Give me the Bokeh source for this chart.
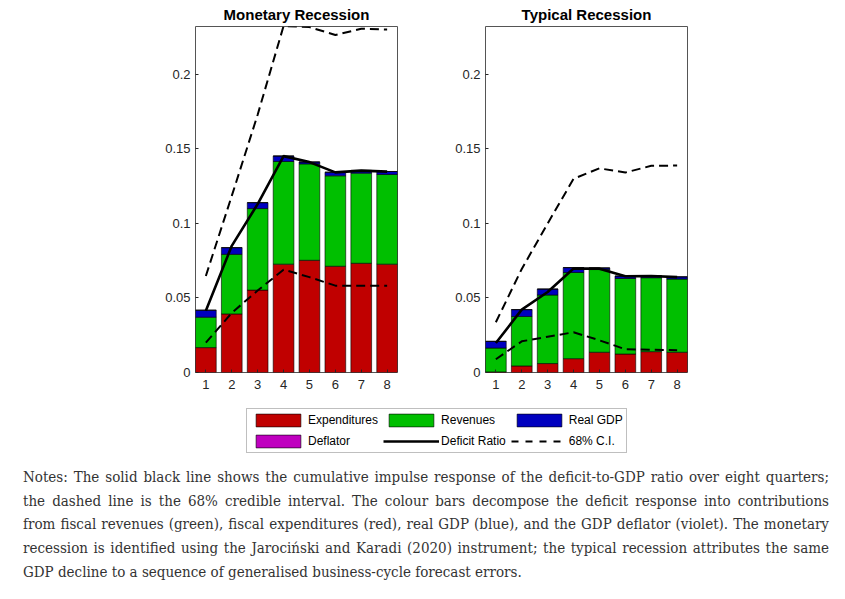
from bokeh.plotting import figure
from bokeh.models import ColumnDataSource, Range1d, FixedTicker, Legend, LegendItem, Div
from bokeh.layouts import column, row
from bokeh.embed import file_html
from bokeh.resources import INLINE

# ---------------- data ----------------
quarters = [1, 2, 3, 4, 5, 6, 7, 8]
y_ticks = [0, 0.05, 0.1, 0.15, 0.2]
y_tick_labels = ["0", "0.05", "0.1", "0.15", "0.2"]
x_tick_labels = ["1", "2", "3", "4", "5", "6", "7", "8"]

# Monetary recession
exp_m = [0.0167, 0.0393, 0.0553, 0.0727, 0.0753, 0.0713, 0.0733, 0.0727]
rev_m = [0.0204, 0.0400, 0.0547, 0.0689, 0.0647, 0.0607, 0.0605, 0.0602]
gdp_m = [0.0047, 0.0045, 0.0040, 0.0037, 0.0013, 0.0024, 0.0018, 0.0020]
defl_m = [0.0, 0.0, 0.0, 0.0, 0.0, 0.0, 0.0, 0.0]
deficit_m = [0.0415, 0.0850, 0.1130, 0.1452, 0.1412, 0.1343, 0.1355, 0.1348]
ci_lo_m = [0.0200, 0.0400, 0.0550, 0.0690, 0.0640, 0.0583, 0.0583, 0.0583]
ci_hi_m = [0.0648, 0.1185, 0.1730, 0.2325, 0.2318, 0.2265, 0.2307, 0.2302]

# Typical recession
exp_t = [0.0004, 0.0044, 0.0060, 0.0093, 0.0136, 0.0124, 0.0140, 0.0136]
rev_t = [0.0160, 0.0332, 0.0460, 0.0578, 0.0555, 0.0507, 0.0496, 0.0491]
gdp_t = [0.0045, 0.0046, 0.0040, 0.0033, 0.0011, 0.0016, 0.0013, 0.0015]
defl_t = [0.0, 0.0, 0.0, 0.0, 0.0, 0.0, 0.0, 0.0]
deficit_t = [0.0198, 0.0422, 0.0540, 0.0698, 0.0697, 0.0646, 0.0648, 0.0640]
ci_lo_t = [0.0089, 0.0209, 0.0240, 0.0270, 0.0216, 0.0156, 0.0153, 0.0149]
ci_hi_t = [0.0337, 0.0695, 0.1000, 0.1300, 0.1370, 0.1342, 0.1387, 0.1389]

titles = ["Monetary Recession", "Typical Recession"]
legend_labels = ["Expenditures", "Revenues", "Real GDP", "Deflator", "Deficit Ratio", "68% C.I."]
bar_colors = ["#c00000", "#00bf00", "#0000bf", "#bf00bf"]

notes_lines = [
    "Notes: The solid black line shows the cumulative impulse response of the deficit-to-GDP ratio over eight quarters;",
    "the dashed line is the 68% credible interval. The colour bars decompose the deficit response into contributions",
    "from fiscal revenues (green), fiscal expenditures (red), real GDP (blue), and the GDP deflator (violet). The monetary",
    "recession is identified using the Jarociński and Karadi (2020) instrument; the typical recession attributes the same",
    "GDP decline to a sequence of generalised business-cycle forecast errors.",
]

# ---------------- style ----------------
FRAME_W = 202
FIG_H = 400
AX_COLOR = "#262626"
SANS = "Liberation Sans"


def style_axis(ax):
    ax.axis_line_color = None
    ax.major_tick_in = 3
    ax.major_tick_out = 0
    ax.minor_tick_line_color = None
    ax.major_tick_line_color = AX_COLOR
    ax.major_label_text_font = SANS
    ax.major_label_text_font_size = "13px"
    ax.major_label_text_color = AX_COLOR


def make_panel(title, exp, rev, gdp, defl, deficit, lo, hi, left_border, right_border):
    src = ColumnDataSource(dict(q=quarters, exp=exp, rev=rev, gdp=gdp, defl=defl,
                                deficit=deficit, lo=lo, hi=hi))
    p = figure(width=left_border + FRAME_W + right_border, height=FIG_H,
               x_range=Range1d(0.6, 8.4), y_range=Range1d(0, 0.2322),
               output_backend="svg", toolbar_location=None,
               min_border_left=left_border, min_border_right=right_border,
               min_border_top=24, min_border_bottom=28, title=title)
    p.title.align = "center"
    p.title.text_font = SANS
    p.title.text_font_size = "15px"
    p.title.text_font_style = "bold"
    p.title.text_color = "black"
    p.title.standoff = 7
    p.xgrid.visible = False
    p.ygrid.visible = False
    p.outline_line_color = "#555555"
    p.outline_line_width = 1
    p.background_fill_color = "white"
    p.border_fill_color = "white"

    p.xaxis.ticker = FixedTicker(ticks=quarters)
    p.xaxis.major_label_overrides = dict(zip(quarters, x_tick_labels))
    p.xaxis.major_label_standoff = 7
    p.yaxis.ticker = FixedTicker(ticks=y_ticks)
    p.yaxis.major_label_overrides = dict(zip(y_ticks, y_tick_labels))
    p.yaxis.major_label_standoff = 5
    style_axis(p.xaxis[0])
    style_axis(p.yaxis[0])

    p.vbar_stack(["exp", "rev", "gdp", "defl"], x="q", width=0.8,
                 fill_color=bar_colors, line_color="black", line_width=0.6,
                 source=src)
    p.line("q", "deficit", line_color="black", line_width=2.6, source=src)
    p.line("q", "lo", line_color="black", line_width=2, line_dash="9 5", source=src)
    p.line("q", "hi", line_color="black", line_width=2, line_dash="9 5", source=src)
    return p, src


p1, src1 = make_panel(titles[0], exp_m, rev_m, gdp_m, defl_m, deficit_m,
                      ci_lo_m, ci_hi_m, 195, 30)
p2, src2 = make_panel(titles[1], exp_t, rev_t, gdp_t, defl_t, deficit_t,
                      ci_lo_t, ci_hi_t, 58, 10)

# ---------------- legend figure ----------------
lf = figure(width=845, height=56, x_range=Range1d(0.6, 8.4), y_range=Range1d(0, 0.2322),
            x_axis_type=None, y_axis_type=None, output_backend="svg",
            toolbar_location=None, min_border=0, outline_line_color=None)
lf.grid.visible = False
lbars = lf.vbar_stack(["exp", "rev", "gdp", "defl"], x="q", width=0.8,
                      fill_color=bar_colors, line_color="black", line_width=0.6,
                      source=src1, visible=False)
ld = lf.line("q", "deficit", line_color="black", line_width=2.6, source=src1, visible=False)
lci = lf.line("q", "lo", line_color="black", line_width=2, line_dash="7 7", source=src1, visible=False)
items = [LegendItem(label=legend_labels[0], renderers=[lbars[0]]),
         LegendItem(label=legend_labels[1], renderers=[lbars[1]]),
         LegendItem(label=legend_labels[2], renderers=[lbars[2]]),
         LegendItem(label=legend_labels[3], renderers=[lbars[3]]),
         LegendItem(label=legend_labels[4], renderers=[ld]),
         LegendItem(label=legend_labels[5], renderers=[lci])]
legend = Legend(items=items, location=(246, 3), orientation="horizontal", ncols=3,
                glyph_width=56, glyph_height=16, label_standoff=2, spacing=5,
                padding=3, margin=0, label_width=40,
                label_text_font=SANS, label_text_font_size="12px", label_text_color="black",
                border_line_color="#7f7f7f", border_line_width=1,
                background_fill_color="white", background_fill_alpha=1)
lf.add_layout(legend)

# ---------------- notes ----------------
line_divs = "".join(
    f'<div style="text-align:justify;text-align-last:justify;white-space:normal;">{t}</div>'
    for t in notes_lines[:-1]
) + f'<div style="text-align:left;">{notes_lines[-1]}</div>'
html = ('<div style="box-sizing:border-box;padding:10px 0 0 23px;width:829px;'
        'font-family:\'DejaVu Serif\',serif;font-stretch:condensed;'
        'font-size:15px;line-height:23.7px;color:#333333;">' + line_divs + '</div>')
notes = Div(text=html, width=845, height=130, margin=0)

layout = column(row(p1, p2, spacing=0), lf, notes, spacing=0)

with open("out.html", "w") as f:
    f.write(file_html(layout, INLINE))
